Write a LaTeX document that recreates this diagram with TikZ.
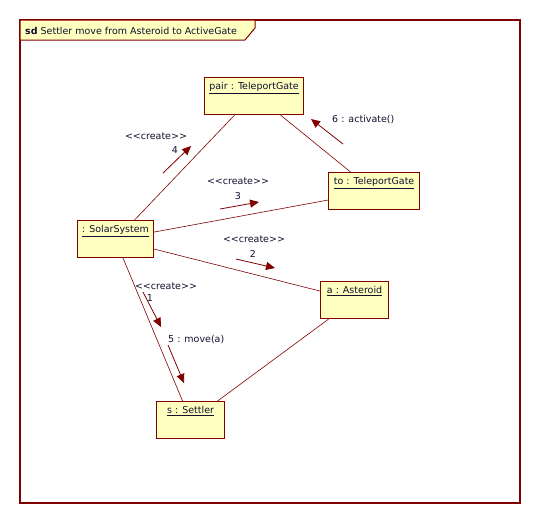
\documentclass[tikz,border=0pt]{standalone}
\usepackage{fontspec}
\setmainfont{DejaVu Sans}
\usetikzlibrary{arrows.meta}
\definecolor{umlred}{RGB}{128,0,0}
\definecolor{umlyellow}{RGB}{255,255,192}
\definecolor{umltext}{RGB}{16,16,48}
\newcommand{\stereo}[1]{<\kern0pt<#1>\kern0pt>}

\begin{document}
\begin{tikzpicture}[x=1pt,y=-1pt,
  every node/.style={font=\fontsize{9.5}{11}\selectfont, text=umltext, inner sep=0pt},
  obj/.style={draw=umlred, fill=umlyellow, line width=1.1pt, minimum height=37pt, anchor=north west,
    label={[anchor=north, yshift=-5.5pt]north:\underline{#1}}},
  assoc/.style={draw=umlred, line width=0.6pt},
  msg/.style={draw=umlred, line width=0.8pt, -{Triangle[length=9pt,width=8pt]}}]
\useasboundingbox (0,0) rectangle (540,523);
% frame
\draw[umlred, line width=1.2pt] (20,20) rectangle (520,503);
\draw[umlred, fill=umlyellow, line width=1pt] (20,20) -- (255,20) -- (255,28) -- (245,40) -- (20,40) -- cycle;
\node[anchor=west] (title) at (25,30.5) {\textbf{sd} Settler move from Asteroid to ActiveGate};
% objects
\node[obj={pair : TeleportGate}, minimum width=99pt] (pair) at (204,77) {};
\node[obj={to : TeleportGate}, minimum width=91pt] (to) at (328,172) {};
\node[obj={: SolarSystem}, minimum width=76pt] (ss) at (77,220) {};
\node[obj={a : Asteroid}, minimum width=68pt] (a) at (320,281) {};
\node[obj={s : Settler}, minimum width=68pt] (s) at (156,401) {};
% links
\draw[assoc] ([xshift=19pt]ss.north) -- ([xshift=-19.5pt]pair.south);
\draw[assoc] ([xshift=26.5pt]pair.south) -- ([xshift=-23.5pt]to.north);
\draw[assoc] ([yshift=7pt]ss.east) -- ([yshift=-9pt]to.west);
\draw[assoc] ([yshift=-10pt]ss.east) -- ([yshift=9pt]a.west);
\draw[assoc] ([xshift=7.5pt]ss.south) -- ([xshift=-8pt]s.north);
\draw[assoc] ([xshift=-26pt]a.south) -- ([xshift=27pt]s.north);
% messages
\coordinate (m1s) at (143,292); \coordinate (m1e) at (161,327);
\coordinate (m2s) at (236,259); \coordinate (m2e) at (275,268);
\coordinate (m3s) at (220,209); \coordinate (m3e) at (259,202);
\coordinate (m4s) at (163,173); \coordinate (m4e) at (191,146);
\coordinate (m5s) at (168,345); \coordinate (m5e) at (184,383);
\coordinate (m6s) at (343,144); \coordinate (m6e) at (311,119);
\draw[msg] (m1s) -- (m1e);
\draw[msg] (m2s) -- (m2e);
\draw[msg] (m3s) -- (m3e);
\draw[msg] (m4s) -- (m4e);
\draw[msg] (m5s) -- (m5e);
\draw[msg] (m6s) -- (m6e);
% message labels
\node (c1) at (166,286) {\stereo{create}};
\node (n1) at (150,298) {1};
\node (c2) at (254,239) {\stereo{create}};
\node (n2) at (253,254) {2};
\node (c3) at (238,181) {\stereo{create}};
\node (n3) at (238,196) {3};
\node (c4) at (156,136) {\stereo{create}};
\node (n4) at (175,150) {4};
\node[anchor=west] (l5) at (168,340) {5 : move(a)};
\node[anchor=west] (l6) at (332,120) {6 : activate()};
\end{tikzpicture}
\end{document}
